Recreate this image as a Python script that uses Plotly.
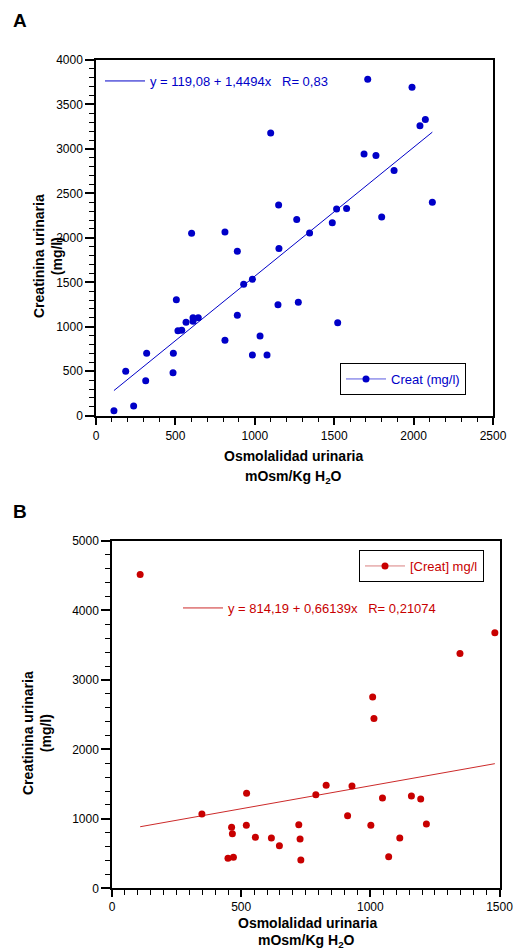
import plotly.graph_objects as go

# ---------------- Panel A data ----------------
osm_a = [113, 237, 187, 313, 319, 485, 487, 506, 516, 540, 567, 611, 611, 644,
         602, 812, 812, 890, 890, 930, 985, 985, 1033, 1077, 1100, 1146, 1152,
         1150, 1264, 1274, 1345, 1488, 1515, 1522, 1578, 1688, 1711, 1763, 1799,
         1877, 1990, 2040, 2074, 2118]
creat_a = [56, 109, 499, 394, 702, 484, 702, 1305, 956, 960, 1051, 1062, 1102, 1102,
           2052, 2066, 848, 1849, 1129, 1478, 1534, 683, 897, 683, 3180, 1249, 1879,
           2370, 2205, 1275, 2055, 2171, 2325, 1046, 2329, 2944, 3784, 2925, 2235,
           2756, 3694, 3262, 3330, 2400]
fit_a_intercept = 119.08
fit_a_slope = 1.4494
label_a_fit = "y = 119,08 + 1,4494x   R= 0,83"
label_a = "Creat (mg/l)"

# ---------------- Panel B data ----------------
osm_b = [109, 1482, 1347, 1009, 1014, 348, 449, 470, 463, 466, 521, 520, 555, 617,
         648, 723, 728, 731, 789, 829, 912, 929, 1002, 1047, 1071, 1114, 1159,
         1195, 1217]
creat_b = [4518, 3678, 3381, 2753, 2446, 1069, 432, 446, 878, 786, 1367, 906, 734, 724,
           613, 915, 709, 407, 1347, 1482, 1045, 1472, 906, 1299, 455, 724, 1328,
           1285, 925]
fit_b_intercept = 814.19
fit_b_slope = 0.66139
label_b_fit = "y = 814,19 + 0,66139x   R= 0,21074"
label_b = "[Creat] mg/l"

xticks_a = [0, 500, 1000, 1500, 2000, 2500]
yticks_a = [0, 500, 1000, 1500, 2000, 2500, 3000, 3500, 4000]
xticks_b = [0, 500, 1000, 1500]
yticks_b = [0, 1000, 2000, 3000, 4000, 5000]

BLUE = "#0000c8"
RED = "#c80000"
RED_LINE = "#cc2a2a"
FONT = "Liberation Sans, Arial, sans-serif"

W, H = 515, 950

fig = go.Figure()

# Panel A
xa_fit = [min(osm_a), max(osm_a)]
fig.add_trace(go.Scatter(x=xa_fit, y=[fit_a_intercept + fit_a_slope * v for v in xa_fit],
                         mode="lines", line=dict(color=BLUE, width=1),
                         name=label_a_fit, legend="legend3", xaxis="x", yaxis="y"))
fig.add_trace(go.Scatter(x=osm_a, y=creat_a, mode="markers",
                         marker=dict(color=BLUE, size=7), showlegend=False,
                         name=label_a, xaxis="x", yaxis="y"))
fig.add_trace(go.Scatter(x=[None], y=[None], mode="lines+markers",
                         marker=dict(color=BLUE, size=7), line=dict(color="#5a5ae0", width=1),
                         name=label_a, legend="legend", xaxis="x", yaxis="y"))

# Panel B
xb_fit = [min(osm_b), max(osm_b)]
fig.add_trace(go.Scatter(x=xb_fit, y=[fit_b_intercept + fit_b_slope * v for v in xb_fit],
                         mode="lines", line=dict(color=RED_LINE, width=1),
                         name=label_b_fit, legend="legend4", xaxis="x2", yaxis="y2"))
fig.add_trace(go.Scatter(x=osm_b, y=creat_b, mode="markers",
                         marker=dict(color=RED, size=7), showlegend=False,
                         name=label_b, xaxis="x2", yaxis="y2"))
fig.add_trace(go.Scatter(x=[None], y=[None], mode="lines+markers",
                         marker=dict(color=RED, size=7), line=dict(color="#d98080", width=1),
                         name=label_b, legend="legend2", xaxis="x2", yaxis="y2"))


def px_x(p):
    return p / W


def px_y(p):
    return 1 - p / H


axis_common = dict(showline=True, linecolor="black", linewidth=1.5, mirror=True,
                   ticks="outside", tickwidth=1.5, tickcolor="black",
                   showgrid=False, zeroline=False, automargin=False,
                   tickfont=dict(family=FONT, size=12, color="black"))

inner_ticks = dict(ticks="inside", ticklen=4, tickwidth=1.5, tickcolor="black",
                   showticklabels=False, showline=False, showgrid=False,
                   zeroline=False, automargin=False, side="left")

dom_ya = [px_y(415.7), px_y(60)]
dom_yb = [px_y(888.3), px_y(541)]

fig.update_layout(
    width=W, height=H,
    margin=dict(l=0, r=0, t=0, b=0),
    paper_bgcolor="white", plot_bgcolor="white",
    font=dict(family=FONT, color="black"),
    xaxis=dict(domain=[px_x(96), px_x(493)], range=[0, 2500], anchor="y",
               tickvals=xticks_a, ticklen=8,
               minor=dict(dtick=100, ticklen=5, ticks="outside", tickcolor="black", tickwidth=1.2),
               **axis_common),
    yaxis=dict(domain=dom_ya, range=[0, 4000], anchor="x",
               tickvals=yticks_a, ticklen=9,
               minor=dict(dtick=100, ticklen=5, ticks="outside", tickcolor="black", tickwidth=1.2),
               **axis_common),
    yaxis3=dict(overlaying="y", anchor="x", range=[0, 4000], tickvals=yticks_a, **inner_ticks),
    xaxis2=dict(domain=[px_x(112), px_x(499.5)], range=[0, 1500], anchor="y2",
                tickvals=xticks_b, ticklen=7,
                minor=dict(dtick=50, ticklen=5, ticks="outside", tickcolor="black", tickwidth=1.2),
                **axis_common),
    yaxis2=dict(domain=dom_yb, range=[0, 5000], anchor="x2",
                tickvals=yticks_b, ticklen=9,
                minor=dict(dtick=200, ticklen=5, ticks="outside", tickcolor="black", tickwidth=1.2),
                **axis_common),
    yaxis4=dict(overlaying="y2", anchor="x2", range=[0, 5000], tickvals=yticks_b, **inner_ticks),
    legend=dict(x=px_x(340), y=px_y(363), xanchor="left", yanchor="top",
                bordercolor="black", borderwidth=1, bgcolor="white",
                font=dict(family=FONT, size=13, color=BLUE), itemwidth=40),
    legend2=dict(x=px_x(359), y=px_y(550), xanchor="left", yanchor="top",
                 bordercolor="black", borderwidth=1, bgcolor="white",
                 font=dict(family=FONT, size=13, color=RED), itemwidth=40),
    legend3=dict(x=px_x(100), y=px_y(66), xanchor="left", yanchor="top",
                 borderwidth=0, bgcolor="rgba(0,0,0,0)",
                 font=dict(family=FONT, size=13, color=BLUE), itemwidth=40),
    legend4=dict(x=px_x(178), y=px_y(593), xanchor="left", yanchor="top",
                 borderwidth=0, bgcolor="rgba(0,0,0,0)",
                 font=dict(family=FONT, size=13, color=RED), itemwidth=40),
)

ann = [
    dict(text="<b>A</b>", x=px_x(11), y=px_y(20.5), xanchor="left", yanchor="middle",
         font=dict(size=19)),
    dict(text="<b>B</b>", x=px_x(11), y=px_y(511.5), xanchor="left", yanchor="middle",
         font=dict(size=19)),
    dict(text="<b>Creatinina urinaria<br>(mg/l)</b>", x=px_x(48), y=px_y(256),
         xanchor="center", yanchor="middle", textangle=-90, font=dict(size=14)),
    dict(text="<b>Creatinina urinaria<br>(mg/l)</b>", x=px_x(37), y=px_y(733),
         xanchor="center", yanchor="middle", textangle=-90, font=dict(size=14)),
    dict(text="<b>Osmolalidad urinaria</b>", x=px_x(293), y=px_y(456),
         xanchor="center", yanchor="middle", font=dict(size=14)),
    dict(text="<b>mOsm/Kg H<sub>2</sub>O</b>", x=px_x(293), y=px_y(477),
         xanchor="center", yanchor="middle", font=dict(size=14)),
    dict(text="<b>Osmolalidad urinaria</b>", x=px_x(307), y=px_y(923),
         xanchor="center", yanchor="middle", font=dict(size=14)),
    dict(text="<b>mOsm/Kg H<sub>2</sub>O</b>", x=px_x(306), y=px_y(940.5),
         xanchor="center", yanchor="middle", font=dict(size=14)),
]
for a in ann:
    a.update(xref="paper", yref="paper", showarrow=False)
    a["font"].update(family=FONT, color="black")
fig.update_layout(annotations=ann)

fig.write_html(
    "out.html",
    config={"displayModeBar": False},
    post_script="document.body.style.margin='0';document.body.style.overflow='hidden';",
)
